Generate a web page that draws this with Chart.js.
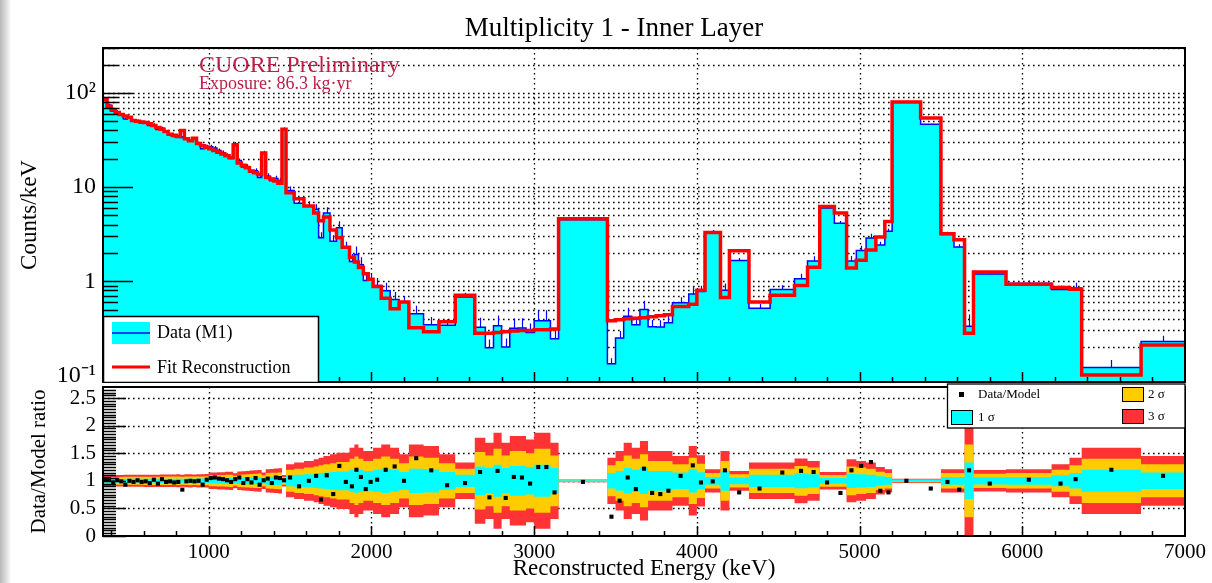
<!DOCTYPE html>
<html>
<head>
<meta charset="utf-8">
<title>Multiplicity 1 - Inner Layer</title>
<script src="https://cdn.jsdelivr.net/npm/chart.js@4.4.0/dist/chart.umd.min.js"></script>
<style>
  html, body { margin: 0; padding: 0; }
  body {
    width: 1212px; height: 583px; position: relative; overflow: hidden;
    background: linear-gradient(to right, #b8b8b8 0px, #e8e8e8 8px, #ffffff 11px);
  }
  #top { position: absolute; left: 0; top: 0; }
  #bottom { position: absolute; left: 0; top: 383px; }
</style>
</head>
<body>
<canvas id="top" width="1212" height="383"></canvas>
<canvas id="bottom" width="1212" height="200"></canvas>
<script>
// bin edges in keV (last entry closes the final bin)
const binEdges = [
  350, 375, 400, 425, 450, 475, 500, 525, 550, 575, 600, 625, 650, 675, 700, 725,
  750, 775, 800, 825, 850, 875, 900, 925, 950, 975, 1000, 1025, 1050, 1075, 1100,
  1125, 1150, 1175, 1200, 1225, 1250, 1275, 1300, 1325, 1350, 1375, 1400, 1425, 1450,
  1475, 1525, 1585, 1645, 1675, 1705, 1745, 1785, 1820, 1865, 1895, 1920, 1950, 1980,
  2010, 2060, 2115, 2170, 2230, 2320, 2415, 2515, 2635, 2700, 2750, 2800, 2850, 2900,
  2950, 3000, 3050, 3100, 3150, 3450, 3500, 3550, 3600, 3650, 3700, 3750, 3800, 3850,
  3950, 4000, 4050, 4145, 4200, 4320, 4450, 4600, 4680, 4755, 4845, 4920, 4980, 5040,
  5100, 5155, 5200, 5375, 5500, 5580, 5645, 5700, 5900, 6180, 6290, 6365, 6730, 7000
];

// fit reconstruction, counts/keV
const fitCounts = [
  85, 72, 66, 62, 59, 57, 55, 51, 50, 49,
  48.5, 47, 45, 43, 41, 39, 36.5, 35.5, 34.5, 40,
  32.5, 31, 33, 29, 27.5, 26.5, 25.5, 24.5, 23.5, 22.5,
  21.5, 20.5, 28, 18, 17, 16, 14.8, 14.2, 13.6, 23,
  12.6, 12.2, 11.6, 11, 41,
  8.7, 7.5, 6.3, 5.3, 4.4, 4.8, 3.5, 2.9, 2.3, 1.8,
  1.6, 1.4, 1.2, 1.05, 0.88, 0.66, 0.51, 0.6, 0.32, 0.29,
  0.37, 0.71, 0.28, 0.28, 0.285, 0.29, 0.295, 0.3, 0.3, 0.305,
  0.305, 0.31, 4.6, 0.38, 0.39, 0.4, 0.405, 0.41, 0.42, 0.43,
  0.44, 0.54, 0.57, 0.8, 3.3, 0.67, 2.1, 0.6, 0.71, 0.9,
  1.41, 6.2, 5.3, 1.38, 1.67, 2.15, 2.95, 4.3, 80, 54,
  3.2, 2.75, 0.28, 1.25, 0.93, 0.86, 0.82, 0.101, 0.21
];

// data (M1), counts/keV
const dataCounts = [
  87.5, 74, 64, 63.2, 58.4, 53, 55, 50, 50.5, 48,
  48, 45.1, 45.9, 40.9, 42.2, 38.2, 36.1, 34.4, 33.8, 33.6,
  32.2, 31, 32.7, 29, 25.6, 27, 26.8, 26, 24.4, 23.2,
  21.7, 20.1, 28.8, 19.1, 16.3, 16.5, 14.4, 14.9, 12.6, 23.2,
  13.1, 11.7, 12.3, 11.6, 41.4,
  9.2, 6.75, 6.3, 5.8, 2.9, 5.3, 2.66, 3.7, 2.25, 1.62,
  1.92, 1.5, 1.02, 1.03, 0.9, 0.79, 0.64, 0.6, 0.45, 0.345,
  0.34, 0.68, 0.325, 0.196, 0.336, 0.2, 0.316, 0.318, 0.285, 0.381,
  0.381, 0.245, 4.5, 0.133, 0.25, 0.424, 0.344, 0.5, 0.328, 0.327,
  0.361, 0.589, 0.73, 0.776, 3.27, 0.8, 1.66, 0.516, 0.817, 1.06,
  1.64, 6.0, 4.13, 1.64, 2.12, 2.88, 2.42, 3.4, 80, 46.4,
  3.14, 2.31, 0.333, 1.19, 0.95, 0.817, 0.845, 0.121, 0.229
];

// data/model ratio per bin
const ratioValues = [
  1.03, 1.03, 0.97, 1.02, 0.99, 0.93, 1.0, 0.98, 1.01, 0.98,
  0.99, 0.96, 1.02, 0.95, 1.03, 0.98, 0.99, 0.97, 0.98, 0.84,
  0.99, 1.0, 0.99, 1.0, 0.93, 1.02, 1.05, 1.06, 1.04, 1.03,
  1.01, 0.98, 1.03, 1.06, 0.96, 1.03, 0.97, 1.05, 0.93, 1.01,
  1.04, 0.96, 1.06, 1.05, 1.01,
  1.06, 0.9, 1.0, 1.09, 0.66, 1.1, 0.76, 1.27, 0.98, 0.9,
  1.2, 1.07, 0.85, 0.98, 1.02, 1.2, 1.26, 1.0, 1.41, 1.19,
  0.92, 0.96, 1.16, 0.7, 1.18, 0.69, 1.07, 1.06, 0.95, 1.25,
  1.25, 0.79, 0.98, 0.35, 0.64, 1.06, 0.85, 1.22, 0.78, 0.76,
  0.82, 1.09, 1.28, 0.97, 0.99, 1.19, 0.79, 0.86, 1.15, 1.18,
  1.16, 0.97, 0.78, 1.19, 1.27, 1.34, 0.82, 0.79, 1.0, 0.86,
  0.98, 0.84, 1.19, 0.95, 1.02, 0.95, 1.03, 1.2, 1.09
];

// 1 sigma half width of the ratio band
const sigmaValues = [
  0.035, 0.035, 0.035, 0.035, 0.035, 0.036, 0.036, 0.036, 0.036, 0.036,
  0.037, 0.037, 0.037, 0.037, 0.038, 0.038, 0.038, 0.038, 0.039, 0.036,
  0.039, 0.04, 0.038, 0.04, 0.04, 0.041, 0.05, 0.05, 0.052, 0.052,
  0.054, 0.055, 0.045, 0.056, 0.058, 0.06, 0.062, 0.064, 0.066, 0.05,
  0.07, 0.072, 0.074, 0.076, 0.035,
  0.1, 0.11, 0.12, 0.13, 0.14, 0.15, 0.16, 0.17, 0.17, 0.2,
  0.22, 0.2, 0.18, 0.18, 0.2, 0.22, 0.2, 0.16, 0.22, 0.21,
  0.16, 0.11, 0.26, 0.23, 0.29, 0.23, 0.27, 0.27, 0.25, 0.29,
  0.29, 0.23, 0.008, 0.14, 0.18, 0.23, 0.2, 0.24, 0.18, 0.18,
  0.18, 0.15, 0.21, 0.155, 0.07, 0.18, 0.06, 0.11, 0.11, 0.135,
  0.12, 0.053, 0.053, 0.13, 0.12, 0.11, 0.083, 0.07, 0.013, 0.013,
  0.07, 0.07, 0.33, 0.065, 0.07, 0.1, 0.14, 0.2, 0.15
];

const energyTicks = [1000, 2000, 3000, 4000, 5000, 6000, 7000];
const countTicks = [0.1, 0.2, 0.3, 0.4, 0.5, 0.6, 0.7, 0.8, 0.9, 1, 2, 3, 4, 5, 6, 7, 8, 9,
  10, 20, 30, 40, 50, 60, 70, 80, 90, 100, 200, 300];
const countLabels = { 0.1: '10⁻¹', 1: '1', 10: '10', 100: '10²' };
const ratioTicks = [0, 0.5, 1, 1.5, 2, 2.5];
const ratioLabels = ['0', '0.5', '1', '1.5', '2', '2.5'];

const SERIF = '"Liberation Serif", "Times New Roman", serif';
Chart.defaults.font.family = SERIF;
Chart.defaults.color = '#000';

// histogram steps: value i is held from edge i to edge i+1
function stepPoints(values) {
  const pts = values.map((v, i) => ({ x: binEdges[i], y: v }));
  pts.push({ x: binEdges[binEdges.length - 1], y: values[values.length - 1] });
  return pts;
}

function binCenters() {
  return ratioValues.map((_, i) => (binEdges[i] + binEdges[i + 1]) / 2);
}

function noEdgePadding(s) {
  s.paddingTop = 0;
  s.paddingBottom = 0;
  s.paddingLeft = 0;
  s.paddingRight = 0;
}

// ROOT like frame: dotted grid, inward ticks, solid box
const rootFrame = {
  id: 'rootFrame',
  beforeDatasetsDraw(chart, args, o) {
    const { ctx, chartArea: a } = chart;
    const x = chart.scales.x, y = chart.scales.y;
    ctx.save();
    ctx.beginPath();
    ctx.rect(a.left, a.top, a.width, a.height);
    ctx.clip();
    ctx.strokeStyle = '#000';
    ctx.lineWidth = 1.3;
    ctx.setLineDash([1.6, 3.4]);
    ctx.beginPath();
    o.xGrid.forEach(v => {
      const p = Math.round(x.getPixelForValue(v)) + 0.5;
      ctx.moveTo(p, a.top); ctx.lineTo(p, a.bottom);
    });
    o.yGrid.forEach(v => {
      const p = Math.round(y.getPixelForValue(v)) + 0.5;
      ctx.moveTo(a.left, p); ctx.lineTo(a.right, p);
    });
    ctx.stroke();
    ctx.restore();
  },
  beforeDatasetDraw(chart, args, o) {
    // error bars of the data, under the fit line
    if (!o.errorBars || args.index !== 0) return;
    const { ctx, chartArea: a } = chart;
    const x = chart.scales.x, y = chart.scales.y;
    ctx.save();
    ctx.beginPath();
    ctx.rect(a.left, a.top, a.width, a.height);
    ctx.clip();
    ctx.strokeStyle = '#0000ff';
    ctx.lineWidth = 1.2;
    ctx.beginPath();
    binCenters().forEach((c, i) => {
      const px = Math.round(x.getPixelForValue(c)) + 0.5;
      ctx.moveTo(px, y.getPixelForValue(dataCounts[i]));
      ctx.lineTo(px, y.getPixelForValue(dataCounts[i] * (1 + sigmaValues[i])));
    });
    ctx.stroke();
    ctx.restore();
  },
  afterDatasetsDraw(chart, args, o) {
    const { ctx, chartArea: a } = chart;
    const x = chart.scales.x, y = chart.scales.y;
    ctx.save();
    ctx.strokeStyle = '#000';
    ctx.lineWidth = 1.5;
    ctx.beginPath();
    for (let e = 400; e < 7000; e += 200) {
      const p = Math.round(x.getPixelForValue(e)) + 0.5;
      const len = e % 1000 === 0 ? 10 : 5;
      ctx.moveTo(p, a.bottom); ctx.lineTo(p, a.bottom - len);
    }
    o.yMajor.forEach(v => {
      const p = Math.round(y.getPixelForValue(v)) + 0.5;
      ctx.moveTo(a.left, p); ctx.lineTo(a.left + o.majorLen, p);
    });
    o.yMinor.forEach(v => {
      const p = Math.round(y.getPixelForValue(v)) + 0.5;
      ctx.moveTo(a.left, p); ctx.lineTo(a.left + o.minorLen, p);
    });
    ctx.stroke();
    ctx.lineWidth = 2;
    ctx.strokeRect(a.left, a.top, a.width, a.height);
    ctx.restore();
  }
};

const topNotes = {
  id: 'topNotes',
  afterDraw(chart) {
    const ctx = chart.ctx;
    ctx.save();
    ctx.fillStyle = '#000';
    ctx.textAlign = 'center';
    ctx.textBaseline = 'alphabetic';
    ctx.font = '27px ' + SERIF;
    ctx.fillText('Multiplicity 1 - Inner Layer', 614, 36);

    ctx.fillStyle = '#bb1f48';
    ctx.textAlign = 'left';
    ctx.font = '24px ' + SERIF;
    ctx.fillText('CUORE Preliminary', 199, 72);
    ctx.font = '18px ' + SERIF;
    ctx.fillText('Exposure: 86.3 kg·yr', 199, 89);

    // legend
    ctx.fillStyle = '#fff';
    ctx.fillRect(103, 316, 215, 66);
    ctx.strokeStyle = '#000';
    ctx.lineWidth = 1.5;
    ctx.strokeRect(103.5, 316.5, 215, 66);
    ctx.fillStyle = '#00ffff';
    ctx.fillRect(112, 322, 38, 22);
    ctx.strokeStyle = '#0000ff';
    ctx.lineWidth = 1.5;
    ctx.beginPath(); ctx.moveTo(112, 333); ctx.lineTo(150, 333); ctx.stroke();
    ctx.strokeStyle = '#ff0000';
    ctx.lineWidth = 3;
    ctx.beginPath(); ctx.moveTo(112, 367); ctx.lineTo(150, 367); ctx.stroke();
    ctx.fillStyle = '#000';
    ctx.font = '18px ' + SERIF;
    ctx.textBaseline = 'middle';
    ctx.fillText('Data (M1)', 157, 333);
    ctx.fillText('Fit Reconstruction', 157, 368);
    ctx.restore();
  }
};

const bottomNotes = {
  id: 'bottomNotes',
  afterDraw(chart) {
    const ctx = chart.ctx;
    ctx.save();
    ctx.fillStyle = '#fff';
    ctx.fillRect(947, 1, 238, 44);
    ctx.strokeStyle = '#000';
    ctx.lineWidth = 1.3;
    ctx.strokeRect(947.5, 1, 237.5, 44);

    ctx.fillStyle = '#000';
    ctx.fillRect(959, 9, 5, 5);
    const boxes = [[951.5, 27.5, '#00ffff'], [1122.5, 4.5, '#ffcc00'], [1122.5, 26.5, '#ff3333']];
    boxes.forEach(([bx, by, c]) => {
      ctx.fillStyle = c;
      ctx.fillRect(bx, by, 21, 14);
      ctx.strokeStyle = '#000';
      ctx.lineWidth = 1;
      ctx.strokeRect(bx, by, 21, 14);
    });
    ctx.fillStyle = '#000';
    ctx.font = '13px ' + SERIF;
    ctx.textBaseline = 'middle';
    ctx.textAlign = 'left';
    ctx.fillText('Data/Model', 978, 12);
    ctx.fillText('1 σ', 978, 35);
    ctx.fillText('2 σ', 1148, 12);
    ctx.fillText('3 σ', 1148, 34);
    ctx.restore();
  }
};

new Chart(document.getElementById('top'), {
  type: 'line',
  data: {
    datasets: [
      {
        label: 'Fit Reconstruction',
        data: stepPoints(fitCounts),
        stepped: 'before',
        borderColor: '#ff0000',
        borderWidth: 3.5,
        pointRadius: 0,
        fill: false
      },
      {
        label: 'Data (M1)',
        data: stepPoints(dataCounts),
        stepped: 'before',
        borderColor: '#0000ff',
        borderWidth: 1.5,
        backgroundColor: '#00ffff',
        pointRadius: 0,
        fill: 'start'
      }
    ]
  },
  options: {
    responsive: false,
    animation: false,
    devicePixelRatio: 1,
    layout: { padding: { top: 48, left: 16, right: 27, bottom: 1 } },
    scales: {
      x: { type: 'linear', min: 350, max: 7000, display: false },
      y: {
        type: 'logarithmic',
        min: 0.085,
        max: 300,
        afterBuildTicks: s => { s.ticks = countTicks.map(v => ({ value: v })); },
        afterFit: s => { s.width = 87; noEdgePadding(s); },
        grid: { display: false, drawTicks: false },
        border: { display: false },
        ticks: {
          autoSkip: false,
          padding: 7,
          font: { size: 24 },
          callback: v => countLabels[v] || ''
        },
        title: { display: true, text: 'Counts/keV', font: { size: 23 }, padding: { top: 0, bottom: 0 } }
      }
    },
    plugins: {
      legend: { display: false },
      tooltip: { enabled: false },
      rootFrame: {
        errorBars: true,
        xGrid: [1000, 2000, 3000, 4000, 5000, 6000],
        yGrid: countTicks,
        yMajor: [0.1, 1, 10, 100],
        yMinor: countTicks.filter(v => ![0.1, 1, 10, 100].includes(v)),
        majorLen: 30,
        minorLen: 15
      }
    }
  },
  plugins: [rootFrame, topNotes]
});

const bandLevels = [
  { k: 1, color: '#00ffff' },
  { k: 2, color: '#ffcc00' },
  { k: 3, color: '#ff3333' }
];

const ratioMinor = [];
for (let i = 1; i < 54; i++) if (i % 10 !== 0) ratioMinor.push(i * 0.05);

const centers = binCenters();

new Chart(document.getElementById('bottom'), {
  type: 'line',
  data: {
    datasets: [
      {
        label: 'Data/Model',
        data: ratioValues.map((r, i) => ({ x: centers[i], y: r })),
        showLine: false,
        pointStyle: 'rect',
        pointRadius: 2.9,
        pointBackgroundColor: '#000',
        pointBorderWidth: 0,
        borderColor: '#000',
        backgroundColor: '#000'
      },
      ...bandLevels.flatMap(b => [
        {
          label: b.k + ' σ',
          data: stepPoints(sigmaValues.map(s => 1 + b.k * s)),
          stepped: 'before',
          borderColor: 'rgba(0,0,0,0)',
          borderWidth: 0,
          pointRadius: 0,
          backgroundColor: b.color,
          fill: '+1'
        },
        {
          label: b.k + ' σ low',
          data: stepPoints(sigmaValues.map(s => 1 - b.k * s)),
          stepped: 'before',
          borderColor: 'rgba(0,0,0,0)',
          borderWidth: 0,
          pointRadius: 0,
          backgroundColor: 'rgba(0,0,0,0)',
          fill: false
        }
      ])
    ]
  },
  options: {
    responsive: false,
    animation: false,
    devicePixelRatio: 1,
    layout: { padding: { top: 0, left: 27, right: 27, bottom: 0 } },
    scales: {
      x: {
        type: 'linear',
        min: 350,
        max: 7000,
        afterBuildTicks: s => { s.ticks = energyTicks.map(v => ({ value: v })); },
        afterFit: s => { s.height = 47; noEdgePadding(s); },
        grid: { display: false, drawTicks: false },
        border: { display: false },
        ticks: { autoSkip: false, maxRotation: 0, padding: 4, font: { size: 21 }, callback: v => String(v) },
        title: { display: true, text: 'Reconstructed Energy (keV)', font: { size: 23 }, padding: { top: 0, bottom: 0 } }
      },
      y: {
        type: 'linear',
        min: 0,
        max: 2.7,
        afterBuildTicks: s => { s.ticks = ratioTicks.map(v => ({ value: v })); },
        afterFit: s => { s.width = 76; noEdgePadding(s); },
        grid: { display: false, drawTicks: false },
        border: { display: false },
        ticks: {
          autoSkip: false,
          padding: 7,
          font: { size: 21 },
          callback: v => ratioLabels[ratioTicks.indexOf(v)]
        },
        title: { display: true, text: 'Data/Model ratio', font: { size: 21 }, padding: { top: 0, bottom: 0 } }
      }
    },
    plugins: {
      legend: { display: false },
      tooltip: { enabled: false },
      rootFrame: {
        errorBars: false,
        xGrid: [1000, 2000, 3000, 4000, 5000, 6000],
        yGrid: [0.5, 1, 1.5, 2, 2.5],
        yMajor: ratioTicks,
        yMinor: ratioMinor,
        majorLen: 23,
        minorLen: 13
      }
    }
  },
  plugins: [rootFrame, bottomNotes]
});
</script>
</body>
</html>
